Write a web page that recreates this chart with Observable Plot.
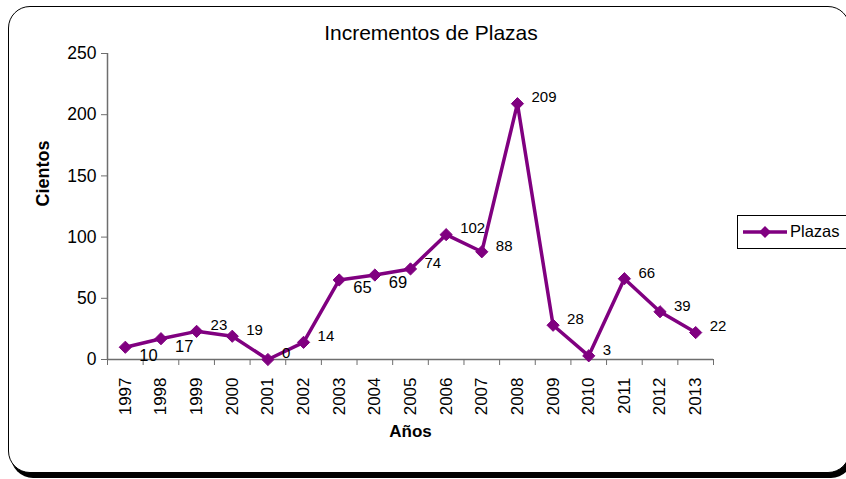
<!DOCTYPE html>
<html>
<head>
<meta charset="utf-8">
<script src="https://cdn.jsdelivr.net/npm/d3@7"></script>
<script src="https://cdn.jsdelivr.net/npm/@observablehq/plot@0.6"></script>
<style>
  body { margin: 0; background: #fff; font-family: "Liberation Sans", Arial, sans-serif; }
  #wrap { position: relative; width: 846px; height: 479px; overflow: hidden; }
  #frame { position: absolute; left: 8px; top: 6px; width: 842px; height: 467px; box-sizing: border-box;
           border: 1.5px solid #000; border-radius: 22px; box-shadow: 3px 5px 0 #000; background: #fff; }
  #title { position: absolute; left: 0; width: 862px; top: 21px; text-align: center; font-size: 21px; color: #000; }
  #chart { position: absolute; left: 0; top: 0; }
  #legend { position: absolute; left: 737px; top: 215px; width: 112px; height: 34px; box-sizing: border-box;
            border: 1px solid #000; background: #fff; font-size: 16.5px; }
  #legend svg { position: absolute; left: 0; top: 0; }
  #legend span { position: absolute; left: 52px; top: 6px; }
</style>
</head>
<body>
<div id="wrap">
  <div id="frame"></div>
  <div id="chart"></div>
  <div id="title"></div>
  <div id="legend"></div>
</div>
<script>
// ---- data ----
const years = [1997, 1998, 1999, 2000, 2001, 2002, 2003, 2004, 2005, 2006, 2007, 2008, 2009, 2010, 2011, 2012, 2013];
const plazas = [10, 17, 23, 19, 0, 14, 65, 69, 74, 102, 88, 209, 28, 3, 66, 39, 22];
const yTicks = [0, 50, 100, 150, 200, 250];
const titleText = "Incrementos de Plazas";
const yLabel = "Cientos";
const xLabel = "Años";
const seriesName = "Plazas";

// ---- style ----
const PURPLE = "#800080";
const AXIS = "#6e6e6e";
const FONT = '"Liberation Sans", Arial, sans-serif';
const labelsBelow = new Set([1997, 1998, 2003, 2004]);

const data = years.map((year, i) => ({year, value: plazas[i]}));
const boundaries = d3.range(years.length + 1).map(i => years[0] - 0.5 + i);

const chart = Plot.plot({
  width: 846,
  height: 479,
  marginLeft: 107,
  marginRight: 133,
  marginTop: 53,
  marginBottom: 120,
  style: {fontFamily: FONT, background: "transparent", color: "#000", overflow: "visible"},
  x: {domain: [boundaries[0], boundaries[boundaries.length - 1]]},
  y: {domain: [yTicks[0], yTicks[yTicks.length - 1]]},
  marks: [
    Plot.ruleX([boundaries[0]], {y1: yTicks[0], y2: yTicks[yTicks.length - 1], stroke: AXIS, strokeWidth: 1.5}),
    Plot.ruleY([0], {stroke: AXIS, strokeWidth: 1.5}),
    Plot.axisY({ticks: yTicks, tickSize: 6, tickPadding: 5, fontSize: 17.5, stroke: AXIS, label: null}),
    Plot.axisX({ticks: boundaries, tickSize: 6, tickFormat: () => "", stroke: AXIS, label: null}),
    Plot.axisX({ticks: years, tickSize: 0, tickPadding: 18, tickRotate: -90, tickFormat: d => String(d), fontSize: 17, label: null}),
    Plot.text([yLabel], {frameAnchor: "left", rotate: -90, dx: -64, fontSize: 18, fontWeight: "bold"}),
    Plot.text([xLabel], {frameAnchor: "bottom", dy: 77, fontSize: 17, fontWeight: "bold"}),
    Plot.line(data, {x: "year", y: "value", stroke: PURPLE, strokeWidth: 3.5}),
    Plot.dot(data, {x: "year", y: "value", symbol: "diamond2", r: 5.5, fill: PURPLE, stroke: PURPLE, strokeWidth: 1}),
    Plot.text(data.filter(d => !labelsBelow.has(d.year)), {x: "year", y: "value", text: d => String(d.value), textAnchor: "start", dx: 14, dy: -6, fontSize: 15}),
    Plot.text(data.filter(d => labelsBelow.has(d.year)), {x: "year", y: "value", text: d => String(d.value), textAnchor: "start", dx: 14, dy: 8, fontSize: 16.5})
  ]
});
document.getElementById("chart").appendChild(chart);
document.getElementById("title").textContent = titleText;

// legend
const leg = document.getElementById("legend");
leg.innerHTML = `<svg width="52" height="32"><line x1="5" x2="49" y1="16" y2="16" stroke="${PURPLE}" stroke-width="3.5"/>
<path d="M27,10 L33,16 L27,22 L21,16 Z" fill="${PURPLE}"/></svg><span></span>`;
leg.querySelector("span").textContent = seriesName;
</script>
</body>
</html>
